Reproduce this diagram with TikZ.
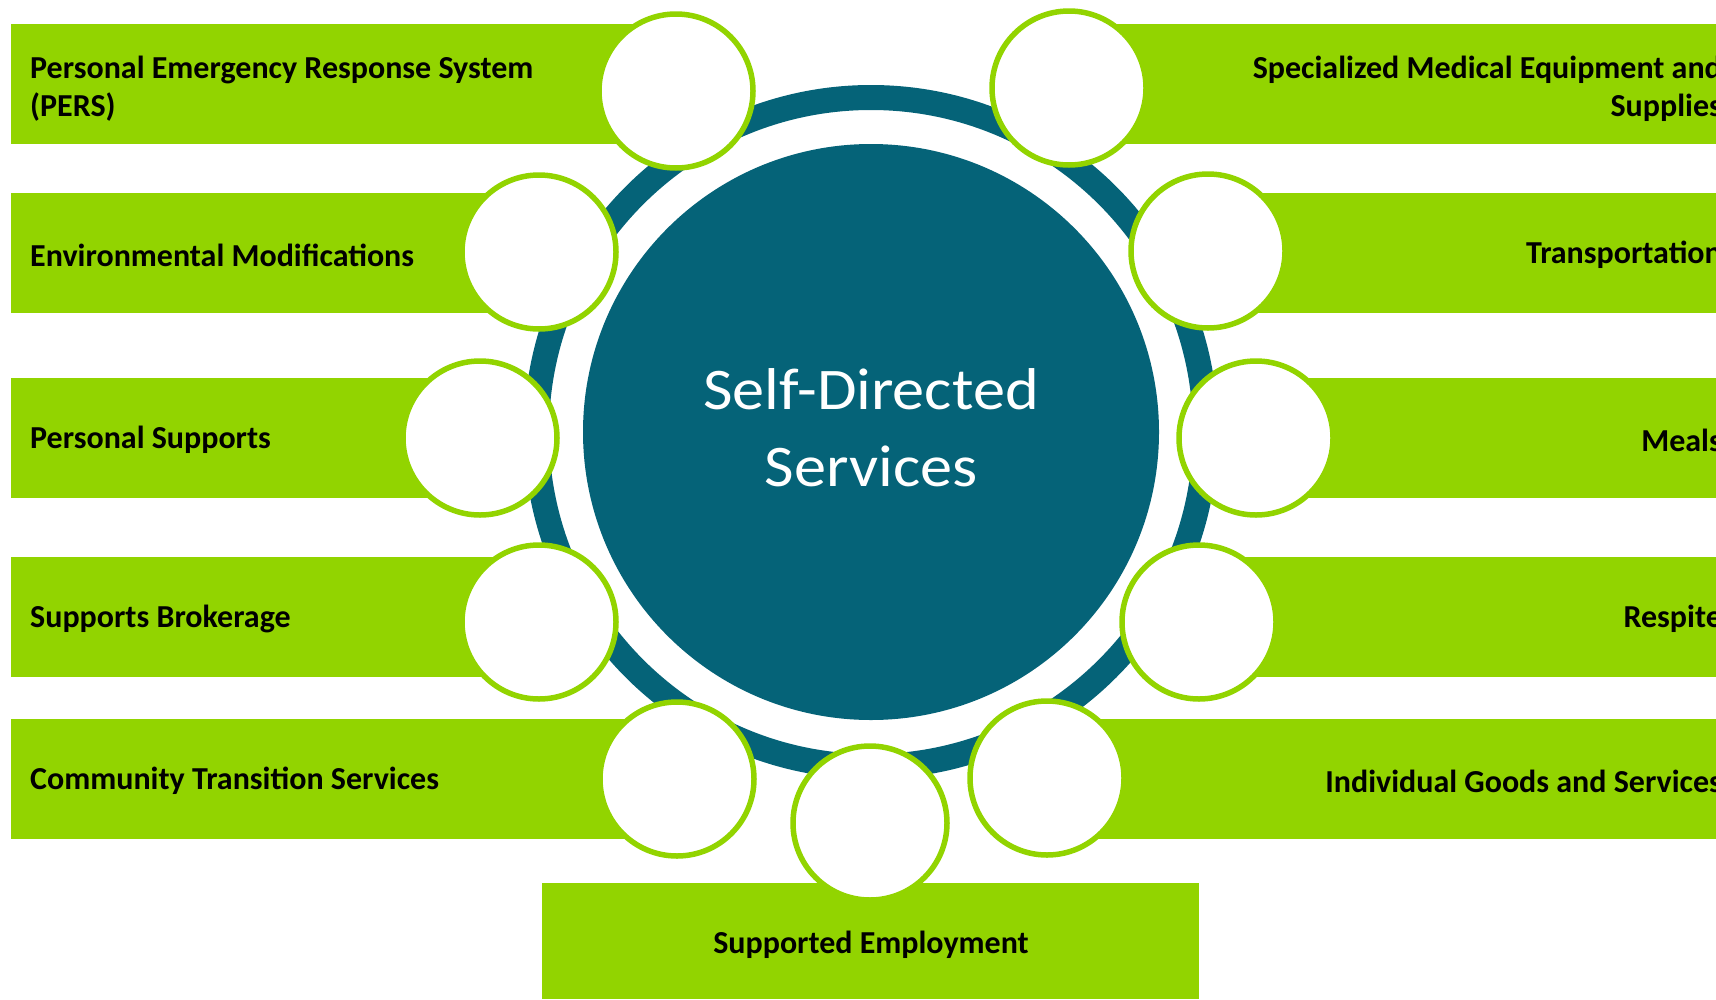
\documentclass[tikz,border=0pt]{standalone}
\usepackage{fontspec}
\setmainfont{Carlito}
\newfontfamily\hubfont[FakeStretch=1.09]{Carlito}
\definecolor{leaf}{RGB}{146,212,0}
\definecolor{teal}{RGB}{5,99,120}
\begin{document}
\begin{tikzpicture}[x=1pt,y=-1pt,
  bar/.style={fill=leaf},
  bubble/.style={circle,draw=leaf,line width=5.5pt,fill=white,minimum size=154pt,inner sep=0pt},
  lbl/.style={font=\fontsize{32}{38}\selectfont\bfseries,text=black,inner sep=0pt},
  leftlbl/.style={lbl,anchor=west,align=left},
  rightlbl/.style={lbl,anchor=east,align=right}]
\useasboundingbox (0,0) rectangle (1716,999);

% hub: ring and central disk
\coordinate (hub) at (871,432);
\draw[teal,line width=25pt] (hub) circle[radius=334.5];
\node[circle,fill=teal,minimum size=576pt,inner sep=0pt] (core) at (hub) {};
\node[text=white,font=\hubfont\fontsize{59}{77}\selectfont,align=center] (title) at (871,428) {Self-Directed\\Services};

% left bars
\fill[bar] (11,24) rectangle (676,144);
\fill[bar] (11,193) rectangle (539,313);
\fill[bar] (11,378) rectangle (479,498);
\fill[bar] (11,557) rectangle (539,677);
\fill[bar] (11,719) rectangle (677,839);
% right bars
\fill[bar] (1069,24) rectangle (1716,144);
\fill[bar] (1208,193) rectangle (1716,313);
\fill[bar] (1256,378) rectangle (1716,498);
\fill[bar] (1199,557) rectangle (1716,677);
\fill[bar] (1047,719) rectangle (1716,839);
% bottom bar
\fill[bar] (542,883) rectangle (1199,999);

% bubbles
\node[bubble] (c1) at (676,91) {};
\node[bubble] (c2) at (539,252) {};
\node[bubble] (c3) at (480,438) {};
\node[bubble] (c4) at (539,622) {};
\node[bubble] (c5) at (677,779) {};
\node[bubble] (c6) at (870,823) {};
\node[bubble] (c7) at (1047,778) {};
\node[bubble] (c8) at (1199,622) {};
\node[bubble] (c9) at (1256,438) {};
\node[bubble] (c10) at (1208,251) {};
\node[bubble] (c11) at (1069,88) {};

% labels
\node[leftlbl] (t1) at (30,89) {Personal Emergency Response System\\(PERS)};
\node[leftlbl] (t2) at (30,255) {Environmental Modifications};
\node[leftlbl] (t3) at (30,440) {Personal Supports};
\node[leftlbl] (t4) at (30,619) {Supports Brokerage};
\node[leftlbl] (t5) at (30,781) {Community Transition Services};
\node[lbl] (t6) at (871,945) {Supported Employment};
\node[rightlbl] (t7) at (1722,781) {Individual Goods and Services};
\node[rightlbl] (t8) at (1722,619) {Respite};
\node[rightlbl] (t9) at (1722,440) {Meals};
\node[rightlbl] (t10) at (1722,255) {Transportation};
\node[rightlbl] (t11) at (1722,89) {Specialized Medical Equipment and\\Supplies};
\end{tikzpicture}
\end{document}
